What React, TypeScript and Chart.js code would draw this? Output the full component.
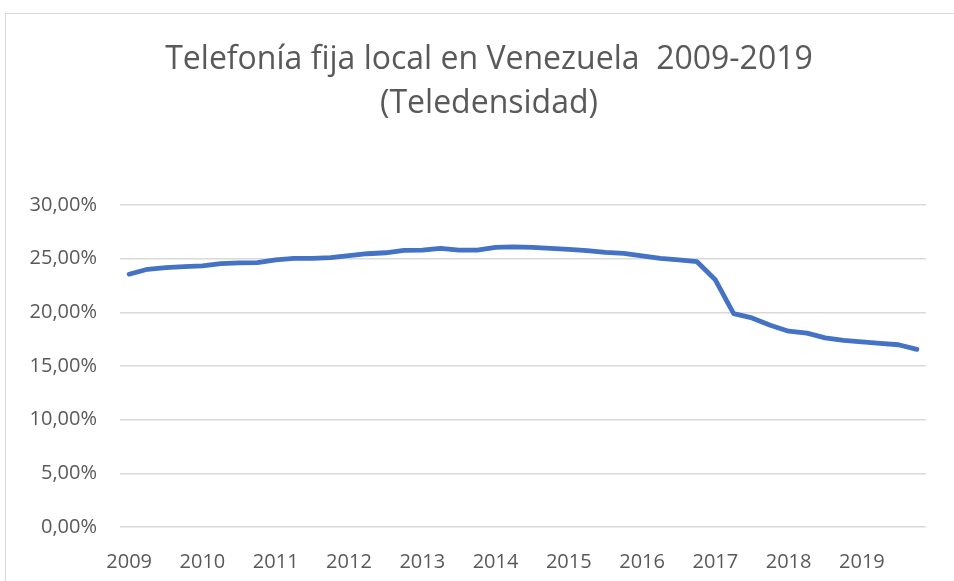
import React, { useEffect, useRef } from "react";
import { Chart, registerables } from "chart.js";

Chart.register(...registerables);

const TITLE_LINES = ["Telefonía fija local en Venezuela  2009-2019", "(Teledensidad)"];
const YEARS = ["2009", "2010", "2011", "2012", "2013", "2014", "2015", "2016", "2017", "2018", "2019"];
const QUARTERS = ["T1", "T2", "T3", "T4"];
const CATEGORIES = YEARS.flatMap((y) => QUARTERS.map((q) => `${y}-${q}`));

// Teledensidad (%), quarterly
const TELEDENSIDAD = [
  23.55, 24.01, 24.17, 24.26,
  24.32, 24.54, 24.6, 24.63,
  24.88, 25.03, 25.03, 25.09,
  25.28, 25.46, 25.55, 25.77,
  25.8, 25.96, 25.8, 25.8,
  26.05, 26.1, 26.05, 25.96,
  25.87, 25.74, 25.58, 25.49,
  25.25, 25.03, 24.88, 24.72,
  23.03, 19.88, 19.48, 18.8,
  18.24, 18.06, 17.62, 17.38,
  17.25, 17.1, 16.98, 16.55,
];

const Y_MIN = 0;
const Y_MAX = 30;
const Y_STEP = 5;

const TEXT_COLOR = "#595959";
const FONT_FAMILY = '"Open Sans", "Noto Sans", sans-serif';

const titlePlugin = {
  id: "customTitle",
  afterDraw(chart: any) {
    const ctx = chart.ctx;
    ctx.save();
    ctx.font = `400 32px ${FONT_FAMILY}`;
    ctx.fillStyle = TEXT_COLOR;
    ctx.textAlign = "center";
    ctx.textBaseline = "alphabetic";
    TITLE_LINES.forEach((t, i) => ctx.fillText(t, 489, 69 + i * 44));
    ctx.restore();
  },
};

export default function App() {
  const ref = useRef<HTMLCanvasElement | null>(null);

  useEffect(() => {
    if (!ref.current) return;
    const chart = new Chart(ref.current, {
      type: "line",
      data: {
        labels: CATEGORIES,
        datasets: [
          {
            label: "Teledensidad",
            data: TELEDENSIDAD,
            borderColor: "#4472C4",
            backgroundColor: "#4472C4",
            borderWidth: 4.8,
            pointRadius: 0,
            tension: 0,
            borderCapStyle: "round",
            borderJoinStyle: "round",
          },
        ],
      },
      options: {
        animation: false,
        responsive: false,
        devicePixelRatio: 1,
        layout: { padding: { top: 205, right: 28, bottom: 0, left: 0 } },
        plugins: {
          legend: { display: false },
          title: { display: false },
          tooltip: { enabled: false },
        },
        scales: {
          x: {
            type: "category",
            offset: true,
            grid: { display: false, drawTicks: false },
            border: { display: false },
            ticks: {
              autoSkip: false,
              maxRotation: 0,
              minRotation: 0,
              padding: 23,
              color: TEXT_COLOR,
              font: { family: FONT_FAMILY, size: 20 },
              callback: (_v: any, index: number) => (index % 4 === 0 ? YEARS[index / 4] : ""),
            },
            afterFit: (scale: any) => {
              scale.height = 54;
            },
          },
          y: {
            min: Y_MIN,
            max: Y_MAX,
            grid: { color: "#d9d9d9", lineWidth: 1.5, drawTicks: false },
            border: { display: false },
            ticks: {
              stepSize: Y_STEP,
              padding: 23,
              color: TEXT_COLOR,
              font: { family: FONT_FAMILY, size: 20 },
              callback: (v: any) => Number(v).toFixed(2).replace(".", ",") + "%",
            },
            afterFit: (scale: any) => {
              scale.width = 120;
            },
          },
        },
      },
      plugins: [titlePlugin],
    });
    return () => chart.destroy();
  }, []);

  return (
    <div
      style={{
        position: "absolute",
        left: 0,
        top: 0,
        width: 954,
        height: 581,
        background: "#ffffff",
        overflow: "hidden",
      }}
    >
      <div
        style={{
          position: "absolute",
          left: 5,
          top: 13,
          width: 1000,
          height: 700,
          border: "1px solid #d9d9d9",
        }}
      />
      <canvas
        ref={ref}
        width={954}
        height={581}
        style={{ position: "absolute", left: 0, top: 0, width: 954, height: 581, display: "block" }}
      />
    </div>
  );
}
